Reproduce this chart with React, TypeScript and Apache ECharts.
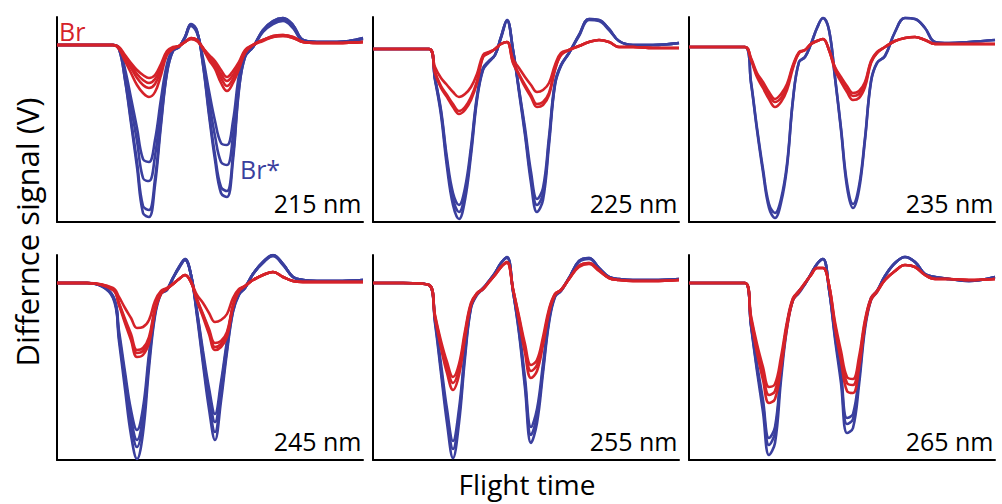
import React, { useEffect, useRef } from 'react';
import * as echarts from 'echarts';

// Flight time grid (arbitrary units)
const TIME = [0, 30, 56, 62, 68, 74, 80, 86, 92, 98, 104, 110, 116, 122, 128, 134, 140, 146, 152, 158, 164, 170, 176, 182, 188, 196, 206, 216, 226, 236, 246, 260, 280, 306];

// 215 nm
const b215_1 = [0,0,0,-4,-35,-78,-122,-168,-172,-140,-80,-28,-6,-2,8,21,14,-20,-70,-115,-148,-152,-115,-45,-12,-2,15,24,27,20,5,3,3,7];
const b215_2 = [0,0,0,-4,-34,-75,-117,-161,-165,-134,-77,-27,-6,-2,8,21,14,-19,-67,-110,-142,-146,-110,-43,-12,-2,15,24,27,20,5,3,3,7];
const b215_3 = [0,0,0,-3,-28,-62,-96,-133,-136,-111,-63,-22,-5,-2,8,20,13,-16,-55,-91,-117,-120,-91,-36,-10,-2,14,22,25,18,5,3,3,6];
const b215_4 = [0,0,0,-3,-24,-53,-83,-114,-117,-95,-54,-19,-4,-2,7,19,12,-13,-46,-76,-98,-100,-76,-30,-8,-2,13,21,24,17,4,3,3,6];
const r215_1 = [0,0,0,-4,-16,-28,-40,-48,-52,-47,-30,-10,-4,-1,3,7,5,-4,-15,-24,-38,-46,-38,-24,-8,0,5,9,10,8,3,2,2,3];
const r215_2 = [0,0,0,-3,-13,-23,-33,-40,-43,-39,-25,-8,-3,-1,3,7,5,-3,-13,-22,-33,-41,-34,-22,-7,0,5,9,10,8,3,2,2,3];
const r215_3 = [0,0,0,-3,-12,-20,-29,-35,-38,-34,-22,-7,-3,-1,3,6,4,-3,-12,-19,-29,-36,-30,-19,-6,0,5,8,9,7,3,2,2,3];
const r215_4 = [0,0,0,-2,-10,-18,-25,-30,-33,-30,-19,-6,-2,-1,3,6,4,-3,-10,-16,-25,-32,-26,-17,-5,0,4,8,9,7,3,2,2,3];

// 225 nm
const b225_1 = [-4,-4,-4,-35,-70,-122,-160,-174,-155,-110,-55,-25,-17,-10,8,25,-5,-47,-90,-138,-167,-155,-100,-40,-21,-8,10,26,25,16,4,0,0,2];
const b225_2 = [-4,-4,-4,-34,-67,-117,-154,-167,-149,-106,-53,-24,-16,-10,8,25,-5,-45,-87,-133,-160,-149,-96,-39,-20,-8,10,26,25,16,4,0,0,2];
const b225_3 = [-4,-4,-4,-33,-65,-113,-148,-160,-143,-102,-51,-23,-16,-10,7,24,-5,-44,-83,-127,-154,-143,-92,-37,-20,-8,9,25,24,15,4,0,0,2];
const r225_1 = [-4,-4,-4,-28,-43,-52,-62,-69,-65,-55,-38,-12,-8,-4,1,3,-18,-30,-42,-52,-62,-60,-50,-25,-10,-5,-1,3,5,3,-2,-2,-3,-3];
const r225_2 = [-4,-4,-4,-27,-41,-50,-59,-66,-62,-52,-36,-12,-8,-4,1,3,-17,-29,-40,-50,-59,-57,-48,-24,-10,-5,-1,3,5,3,-2,-2,-3,-3];
const r225_3 = [-4,-4,-4,-22,-33,-40,-47,-52,-49,-42,-29,-10,-7,-4,1,3,-14,-23,-32,-40,-47,-45,-38,-20,-8,-5,-1,3,5,3,-2,-2,-3,-3];

// 235 nm
const b235_1 = [-2,-2,-2,-38,-85,-127,-163,-173,-158,-122,-55,-17,-12,1,17,27,15,-33,-85,-142,-163,-145,-95,-37,-18,-11,13,27,26,17,3,2,3,5];
const b235_2 = [-2,-2,-2,-37,-83,-124,-159,-168,-154,-119,-54,-17,-12,1,17,27,15,-32,-83,-138,-159,-141,-93,-36,-18,-11,13,27,26,17,3,2,3,5];
const r235_1 = [-2,-2,-2,-15,-32,-43,-54,-62,-57,-45,-23,-8,-5,1,4,6,-5,-25,-37,-47,-55,-53,-42,-18,-8,-2,4,7,8,5,1,1,1,1];
const r235_2 = [-2,-2,-2,-14,-30,-40,-50,-57,-53,-42,-21,-8,-5,1,4,6,-5,-23,-34,-43,-51,-49,-39,-17,-8,-2,4,7,8,5,1,1,1,1];
const r235_3 = [-2,-2,-2,-13,-28,-37,-47,-54,-49,-39,-20,-7,-5,1,4,6,-5,-22,-32,-41,-48,-46,-37,-16,-7,-2,4,7,8,5,1,1,1,1];

// 245 nm
const b245_1 = [0,0,-15,-58,-106,-152,-176,-150,-85,-33,-11,-7,5,16,24,8,-33,-81,-126,-157,-118,-69,-29,-12,-5,9,21,28,19,6,3,2,2,3];
const b245_2 = [0,0,-14,-54,-99,-141,-164,-140,-79,-31,-10,-7,5,16,24,8,-31,-77,-120,-149,-112,-66,-28,-11,-5,9,21,28,19,6,3,2,2,3];
const b245_3 = [0,0,-13,-52,-94,-135,-157,-134,-76,-29,-10,-6,5,15,23,8,-29,-72,-112,-139,-104,-61,-26,-11,-5,9,21,27,19,6,3,2,2,3];
const b245_4 = [0,0,-13,-48,-89,-127,-147,-125,-71,-28,-9,-6,5,15,23,8,-28,-68,-105,-131,-99,-58,-24,-10,-4,9,20,27,18,6,3,2,2,3];
const r245_1 = [0,0,-7,-22,-40,-57,-74,-72,-60,-28,-11,-6,-1,4,8,1,-18,-34,-51,-67,-64,-54,-24,-8,-3,3,8,11,6,2,1,1,1,1];
const r245_2 = [0,0,-7,-21,-38,-54,-70,-68,-57,-27,-10,-6,-1,4,8,1,-17,-32,-48,-64,-61,-51,-23,-8,-3,3,8,11,6,2,1,1,1,1];
const r245_3 = [0,0,-6,-20,-36,-51,-67,-65,-54,-25,-10,-5,-1,4,8,1,-16,-31,-46,-60,-58,-49,-22,-7,-3,3,8,11,6,2,1,1,1,1];
const r245_4 = [0,0,-5,-14,-25,-35,-45,-44,-37,-18,-8,-5,-1,4,8,1,-12,-20,-30,-39,-37,-31,-15,-6,-3,3,8,11,6,2,1,1,1,1];

// 255 nm
const b255_1 = [0,0,-2,-40,-90,-140,-175,-140,-75,-25,-12,-6,2,10,20,26,-8,-50,-105,-160,-140,-90,-40,-14,-8,5,22,25,15,6,4,3,3,4];
const b255_2 = [0,0,-2,-38,-86,-133,-166,-133,-71,-24,-11,-6,2,10,20,26,-8,-48,-100,-152,-133,-86,-38,-13,-8,5,22,25,15,6,4,3,3,4];
const b255_3 = [0,0,-2,-36,-81,-126,-158,-126,-68,-23,-11,-5,2,10,20,25,-8,-45,-95,-144,-126,-81,-36,-13,-7,5,21,24,15,6,4,3,3,4];
const r255_1 = [0,0,-2,-35,-65,-90,-107,-92,-55,-22,-11,-6,1,8,16,21,-6,-38,-70,-95,-88,-62,-30,-12,-7,4,17,20,13,5,3,2,2,3];
const r255_2 = [0,0,-2,-33,-61,-84,-100,-86,-51,-21,-10,-6,1,8,16,21,-6,-35,-65,-88,-82,-58,-28,-11,-7,4,17,20,13,5,3,2,2,3];
const r255_3 = [0,0,-2,-32,-58,-79,-94,-81,-48,-20,-10,-6,1,8,16,20,-6,-33,-61,-82,-77,-54,-26,-11,-7,4,16,19,12,5,3,2,2,3];

// 265 nm
const b265_1 = [0,0,0,-43,-88,-129,-172,-160,-97,-45,-17,-10,-1,9,19,24,-6,-56,-100,-150,-145,-102,-46,-17,-9,7,20,26,21,9,6,4,2,6];
const b265_2 = [0,0,0,-42,-85,-122,-162,-150,-91,-42,-17,-8,-1,9,19,24,-6,-53,-94,-141,-136,-96,-43,-16,-8,7,20,26,21,9,6,4,2,6];
const b265_3 = [0,0,0,-41,-81,-117,-155,-144,-87,-41,-16,-8,-1,9,19,24,-6,-50,-90,-135,-131,-92,-41,-15,-8,7,20,26,21,9,6,4,2,6];
const r265_1 = [0,0,0,-38,-70,-97,-120,-116,-85,-45,-17,-9,0,8,15,15,-2,-45,-78,-108,-110,-85,-42,-17,-9,3,12,18,16,8,4,4,3,4];
const r265_2 = [0,0,0,-35,-65,-90,-112,-108,-79,-42,-16,-8,0,8,15,15,-2,-42,-73,-100,-102,-79,-39,-16,-8,3,12,18,16,8,4,4,3,4];
const r265_3 = [0,0,0,-33,-61,-84,-104,-101,-74,-39,-15,-8,0,8,15,15,-2,-39,-68,-94,-96,-74,-37,-15,-8,3,12,18,16,8,4,4,3,4];

const WAVELENGTHS = ['215 nm', '225 nm', '235 nm', '245 nm', '255 nm', '265 nm'];
const BLUE_SETS = [
  [b215_1, b215_2, b215_3, b215_4],
  [b225_1, b225_2, b225_3],
  [b235_1, b235_2],
  [b245_1, b245_2, b245_3, b245_4],
  [b255_1, b255_2, b255_3],
  [b265_1, b265_2, b265_3],
];
const RED_SETS = [
  [r215_1, r215_2, r215_3, r215_4],
  [r225_1, r225_2, r225_3],
  [r235_1, r235_2, r235_3],
  [r245_1, r245_2, r245_3, r245_4],
  [r255_1, r255_2, r255_3],
  [r265_1, r265_2, r265_3],
];

const Y_MIN = -177;
const Y_MAX = 28;
const X_MAX = 306;

const COL_LEFT = [57, 373, 689];
const ROW_TOP = [17, 255];
const PANEL_W = 306;
const PANEL_H = 205;
const BLUE = '#3a3f9e';
const RED = '#d52229';
const FONT = '"Open Sans", "Noto Sans", sans-serif';

export default function App() {
  const ref = useRef<HTMLDivElement>(null);
  useEffect(() => {
    if (!ref.current) return;
    const chart = echarts.init(ref.current, null, { renderer: 'svg' });
    const grids: any[] = [];
    const xAxes: any[] = [];
    const yAxes: any[] = [];
    const series: any[] = [];
    const graphics: any[] = [];
    const axisCommon = {
      axisTick: { show: false },
      axisLabel: { show: false },
      splitLine: { show: false },
      axisLine: { show: true, onZero: false, lineStyle: { color: '#000', width: 2 } },
    };
    for (let p = 0; p < 6; p++) {
      const col = p % 3;
      const row = Math.floor(p / 3);
      const left = COL_LEFT[col];
      const top = ROW_TOP[row];
      grids.push({ left, top, width: PANEL_W, height: PANEL_H, containLabel: false });
      xAxes.push({ type: 'value', gridIndex: p, min: 0, max: X_MAX, ...axisCommon });
      yAxes.push({ type: 'value', gridIndex: p, min: Y_MIN, max: Y_MAX, ...axisCommon });
      const add = (set: number[][], color: string) => {
        set.forEach((vals) => {
          series.push({
            type: 'line',
            xAxisIndex: p,
            yAxisIndex: p,
            data: TIME.map((t, i) => [t, vals[i]]),
            showSymbol: false,
            smooth: 0.4,
            silent: true,
            lineStyle: { color, width: 2.6 },
            itemStyle: { color },
          });
        });
      };
      add(BLUE_SETS[p], BLUE);
      add(RED_SETS[p], RED);
      graphics.push({
        type: 'text',
        x: left + PANEL_W - 1.5,
        y: top + PANEL_H - 19,
        style: {
          text: WAVELENGTHS[p],
          fontSize: 25,
          fontFamily: FONT,
          fill: '#000',
          textAlign: 'right',
          textVerticalAlign: 'middle',
        },
      });
    }
    graphics.push({
      type: 'text', x: 59, y: 31,
      style: { text: 'Br', fontSize: 25, fontFamily: FONT, fill: RED, textAlign: 'left', textVerticalAlign: 'middle' },
    });
    graphics.push({
      type: 'text', x: 240, y: 168.5,
      style: { text: 'Br*', fontSize: 25, fontFamily: FONT, fill: BLUE, textAlign: 'left', textVerticalAlign: 'middle' },
    });
    graphics.push({
      type: 'text', x: 527, y: 484,
      style: { text: 'Flight time', fontSize: 28, fontFamily: FONT, fill: '#000', textAlign: 'center', textVerticalAlign: 'middle' },
    });
    graphics.push({
      type: 'text', x: 27, y: 232, rotation: Math.PI / 2,
      style: { text: 'Differnce signal (V)', fontSize: 31, fontFamily: FONT, fill: '#000', textAlign: 'center', textVerticalAlign: 'middle' },
    });
    chart.setOption({
      animation: false,
      backgroundColor: '#fff',
      grid: grids,
      xAxis: xAxes,
      yAxis: yAxes,
      series,
      graphic: graphics,
    });
    return () => chart.dispose();
  }, []);
  return <div ref={ref} style={{ position: 'fixed', left: 0, top: 0, width: 1002, height: 504 }} />;
}
